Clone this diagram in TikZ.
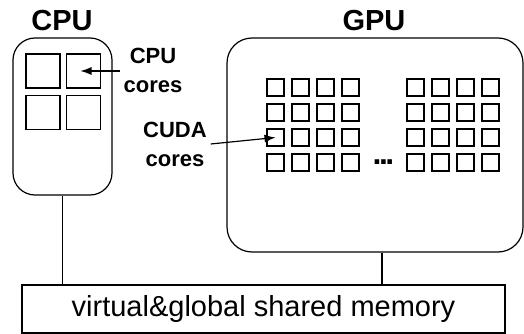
\documentclass[tikz,border=0pt]{standalone}
\usepackage{fontspec}
\setmainfont{Liberation Sans}
\usetikzlibrary{positioning,arrows.meta}

\begin{document}
\begin{tikzpicture}[x=1pt,y=-1pt,line width=1.2pt,
 unit/.style={draw,rounded corners=#1,inner sep=0pt},
 core/.style={draw,minimum size=#1,inner sep=0pt},
 title/.style={font=\bfseries\fontsize{29}{34}\selectfont},
 note/.style={font=\bfseries\fontsize{22}{29}\selectfont,align=center},
 tip/.style={-{Latex[length=11pt,width=8pt]}}]
 \useasboundingbox (0,0) rectangle (524,334);
 % processors and memory
 \node[unit=22pt,minimum width=99pt,minimum height=157pt] (cpu) at (62.5,116.5) {};
 \node[unit=25pt,minimum width=296pt,minimum height=214pt] (gpu) at (375,145) {};
 \node[draw,minimum width=483pt,minimum height=48pt,inner sep=0pt,
  font=\fontsize{29}{34}\selectfont] (mem) at (263.5,309) {virtual\&global shared memory};
 \node[title] (cputitle) at (62,21) {CPU};
 \node[title] (gputitle) at (374,21) {GPU};
 % cpu cores
 \foreach \i/\y in {1/71,2/112.5}
  \foreach \j/\x in {1/43,2/83.5}
   \node[core=34pt] (c\i\j) at (\x,\y) {};
 % cuda cores
 \foreach \i/\y in {1/87.5,2/112.5,3/137.5,4/162.5}
  \foreach \j/\x in {1/275.5,2/300.5,3/325.5,4/350.5,5/415.5,6/440.5,7/465.5,8/490.5}
   \node[core=17pt] (g\i\j) at (\x,\y) {};
 \node[font=\bfseries\fontsize{32}{36}\selectfont,anchor=base] (dots) at (383.5,164)
  {.\kern-2.5pt.\kern-2.5pt.};
 % labels
 \node[note] (cpucores) at (153,70) {CPU\\cores};
 \node[note] (cudacores) at (175,144) {CUDA\\cores};
 \draw[tip] (cpucores.west |- c12) -- ([xshift=-3pt]c12.center);
 \draw[tip] (cudacores.east) -- (g31.center);
 % buses
 \draw (cpu.south) -- (cpu.south |- mem.north);
 \draw ([xshift=7pt]gpu.south) -- ([xshift=7pt]gpu.south |- mem.north);
\end{tikzpicture}
\end{document}
